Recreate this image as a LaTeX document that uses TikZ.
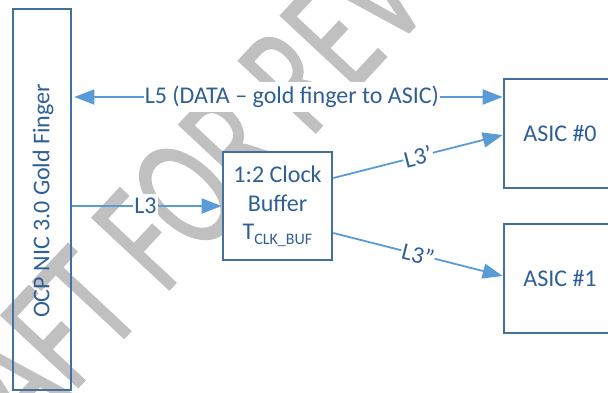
\documentclass[tikz,border=0pt]{standalone}
\usepackage{fontspec}
\setmainfont{Carlito}
\newfontfamily\wmfont[FakeBold=0.8]{Carlito}
\usetikzlibrary{arrows.meta}
\definecolor{boxblue}{RGB}{65,113,156}
\definecolor{lineblue}{RGB}{91,155,213}
\definecolor{txtblue}{RGB}{47,95,150}
\definecolor{wmgray}{RGB}{192,192,192}
\begin{document}
\begin{tikzpicture}[x=1pt,y=-1pt,
  box/.style={draw=boxblue, line width=2.6pt, text=txtblue, font=\fontsize{24}{29}\selectfont, inner sep=0pt},
  conn/.style={draw=lineblue, line width=1.8pt},
  tip/.style={-{Triangle[length=20pt,width=15pt]}},
  lbl/.style={fill=white, text=txtblue, font=\fontsize{24}{29}\selectfont, inner xsep=1pt, inner ysep=4pt},
  wm/.style={text=wmgray, font=\wmfont\fontsize{165}{165}\selectfont, inner sep=0pt}]
\useasboundingbox (0,0) rectangle (608,392);
% watermark
\node[wm, anchor=base west, rotate=47, xscale=0.69] (wmk) at (-62,538) {DRAFT FOR REVIEW};
% boxes
\node[box, minimum width=58pt, minimum height=381pt] (gf) at (42,199.5) {};
\node[text=txtblue, font=\fontsize{24}{29}\selectfont, rotate=90] (gft) at (43,201) {OCP NIC 3.0 Gold Finger};
\node[box, fill=white, minimum width=109pt, minimum height=108pt, align=center] (cb) at (277.5,206)
  {1:2 Clock\\Buffer\\[-1pt]T{\fontsize{16}{16}\selectfont\raisebox{-5pt}{CLK\_BUF}}};
\node[box, minimum width=112pt, minimum height=109pt] (a0) at (560,133.5) {ASIC \#0};
\node[box, minimum width=112pt, minimum height=109pt] (a1) at (560,278.5) {ASIC \#1};
% connectors
\coordinate (y97) at (0,97);
\coordinate (l5a) at ([xshift=2pt]gf.east |- y97);
\coordinate (l5b) at (a0.west |- y97);
\draw[conn, {Triangle[length=20pt,width=15pt]}-{Triangle[length=20pt,width=15pt]}] (l5a) -- node[lbl, pos=0.508] (l5) {L5 (DATA – gold finger to ASIC)} (l5b);
\draw[conn, tip] (gf.east |- cb.west) -- node[lbl, pos=0.49] (l3) {L3} (cb.west);
\draw[conn, tip] ([yshift=28pt]cb.east) -- node[lbl, sloped] (l3a) {L3\symbol{39}} ([yshift=-1.5pt]a0.west);
\draw[conn, tip] ([yshift=-27pt]cb.east) -- node[lbl, sloped] (l3b) {L3\symbol{34}} ([yshift=2.5pt]a1.west);
\end{tikzpicture}
\end{document}
